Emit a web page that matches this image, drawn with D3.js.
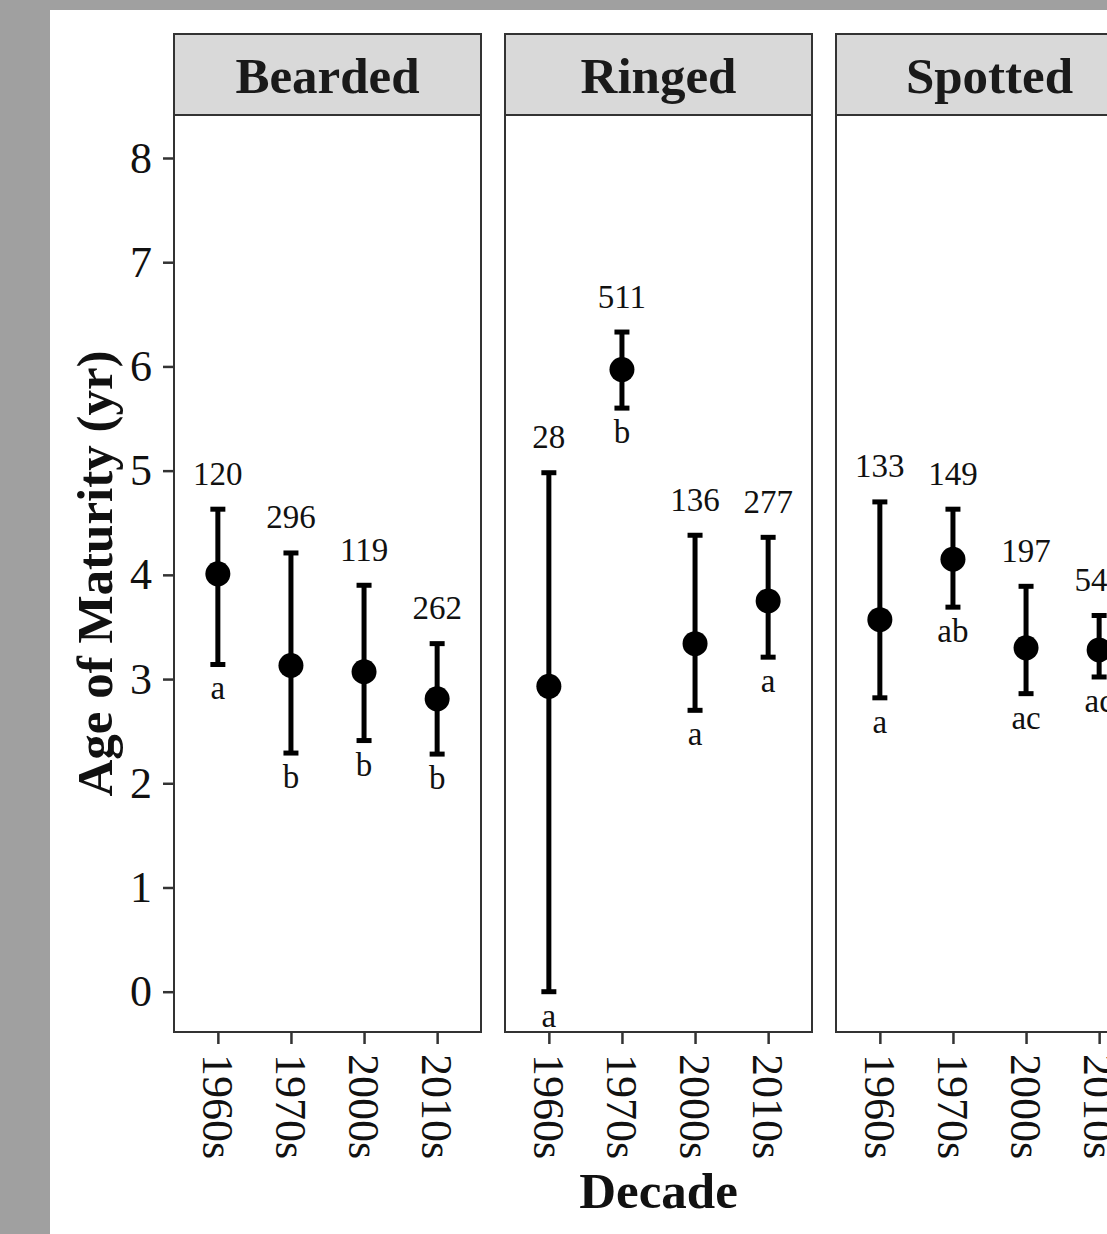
<!DOCTYPE html>
<html>
<head>
<meta charset="utf-8">
<script src="https://cdn.jsdelivr.net/npm/d3@7"></script>
<style>
  html, body { margin: 0; padding: 0; background: #a0a0a0; }
  svg { display: block; }
  text { font-family: "Liberation Serif", "Times New Roman", serif; }
</style>
</head>
<body>
<svg id="chart" width="1107" height="1234"></svg>
<script>
// ---- data ----
const species = ["Bearded", "Ringed", "Spotted"];
const decades = ["1960s", "1970s", "2000s", "2010s"];
const yTicks = [0, 1, 2, 3, 4, 5, 6, 7, 8];

const beardedMean = [4.01, 3.13, 3.07, 2.81];
const beardedLow  = [3.14, 2.29, 2.41, 2.28];
const beardedHigh = [4.63, 4.21, 3.90, 3.34];
const beardedN    = ["120", "296", "119", "262"];
const beardedSig  = ["a", "b", "b", "b"];

const ringedMean = [2.93, 5.97, 3.34, 3.75];
const ringedLow  = [0.00, 5.60, 2.70, 3.21];
const ringedHigh = [4.98, 6.33, 4.38, 4.36];
const ringedN    = ["28", "511", "136", "277"];
const ringedSig  = ["a", "b", "a", "a"];

const spottedMean = [3.57, 4.15, 3.30, 3.28];
const spottedLow  = [2.82, 3.69, 2.86, 3.02];
const spottedHigh = [4.70, 4.63, 3.89, 3.61];
const spottedN    = ["133", "149", "197", "542"];
const spottedSig  = ["a", "ab", "ac", "ac"];

const series = [
  {mean: beardedMean, low: beardedLow, high: beardedHigh, n: beardedN, sig: beardedSig},
  {mean: ringedMean,  low: ringedLow,  high: ringedHigh,  n: ringedN,  sig: ringedSig},
  {mean: spottedMean, low: spottedLow, high: spottedHigh, n: spottedN, sig: spottedSig}
];

// ---- layout ----
const svg = d3.select("#chart");
svg.append("rect").attr("x", 50).attr("y", 10).attr("width", 1107 - 50).attr("height", 1234 - 10).attr("fill", "#ffffff");

const panelW = 307, panelGap = 24, panel0 = 174;
const stripTop = 34, panelTop = 115, panelBottom = 1032;
const y = d3.scaleLinear().domain([0, 8]).range([991.7, 158]);
const axisColor = "#333333";

// y axis
const yAxis = svg.append("g").attr("transform", `translate(${panel0},0)`)
  .call(d3.axisLeft(y).tickValues(yTicks).tickSize(11).tickPadding(11).tickFormat(d3.format("d")));
yAxis.select(".domain").remove();
yAxis.selectAll(".tick line").attr("stroke", axisColor).attr("stroke-width", 2.5);
yAxis.selectAll(".tick text").attr("font-size", 44).attr("fill", "#111")
  .attr("font-family", "Liberation Serif, serif");

// y title
svg.append("text")
  .attr("transform", `translate(112,${(panelTop + panelBottom) / 2}) rotate(-90)`)
  .attr("text-anchor", "middle").attr("font-weight", "bold").attr("font-size", 51)
  .attr("fill", "#111").text("Age of Maturity (yr)");

species.forEach((sp, i) => {
  const left = panel0 + i * (panelW + panelGap);
  const g = svg.append("g").attr("transform", `translate(${left},0)`);
  const x = d3.scalePoint().domain(decades).range([0, panelW]).padding(0.6);
  const s = series[i];

  // strip
  g.append("rect").attr("x", 0).attr("y", stripTop).attr("width", panelW).attr("height", panelTop - stripTop)
    .attr("fill", "#d9d9d9").attr("stroke", axisColor).attr("stroke-width", 2);
  g.append("text").attr("x", panelW / 2).attr("y", panelTop - 22)
    .attr("text-anchor", "middle").attr("font-weight", "bold").attr("font-size", 51)
    .attr("fill", "#1a1a1a").text(sp);

  // panel
  g.append("rect").attr("x", 0).attr("y", panelTop).attr("width", panelW).attr("height", panelBottom - panelTop)
    .attr("fill", "#ffffff").attr("stroke", axisColor).attr("stroke-width", 2);

  // x axis
  const xAxis = g.append("g").attr("transform", `translate(0,${panelBottom})`)
    .call(d3.axisBottom(x).tickSize(12).tickPadding(10));
  xAxis.select(".domain").remove();
  xAxis.selectAll(".tick line").attr("stroke", axisColor).attr("stroke-width", 2.5);
  xAxis.selectAll(".tick text").attr("font-size", 44).attr("fill", "#111")
    .attr("font-family", "Liberation Serif, serif")
    .attr("transform", "rotate(90)").attr("y", 0).attr("x", 22).attr("dy", "0.35em")
    .attr("text-anchor", "start");

  const rows = decades.map((d, k) => ({d, mean: s.mean[k], low: s.low[k], high: s.high[k], n: s.n[k], sig: s.sig[k]}));
  const items = g.selectAll(".pt").data(rows).enter().append("g").attr("class", "pt");

  items.append("line").attr("x1", r => x(r.d)).attr("x2", r => x(r.d))
    .attr("y1", r => y(r.low)).attr("y2", r => y(r.high))
    .attr("stroke", "#000").attr("stroke-width", 5);
  items.append("line").attr("x1", r => x(r.d) - 7.5).attr("x2", r => x(r.d) + 7.5)
    .attr("y1", r => y(r.low)).attr("y2", r => y(r.low))
    .attr("stroke", "#000").attr("stroke-width", 5);
  items.append("line").attr("x1", r => x(r.d) - 7.5).attr("x2", r => x(r.d) + 7.5)
    .attr("y1", r => y(r.high)).attr("y2", r => y(r.high))
    .attr("stroke", "#000").attr("stroke-width", 5);
  items.append("circle").attr("cx", r => x(r.d)).attr("cy", r => y(r.mean)).attr("r", 12.5).attr("fill", "#000");

  items.append("text").attr("x", r => x(r.d)).attr("y", r => y(r.high) - 24.5)
    .attr("text-anchor", "middle").attr("font-size", 33).attr("fill", "#111").text(r => r.n);
  items.append("text").attr("x", r => x(r.d)).attr("y", r => y(r.low) + 35)
    .attr("text-anchor", "middle").attr("font-size", 33).attr("fill", "#111").text(r => r.sig);
});

// x title
svg.append("text")
  .attr("x", panel0 + (3 * panelW + 2 * panelGap) / 2).attr("y", 1208)
  .attr("text-anchor", "middle").attr("font-weight", "bold").attr("font-size", 51)
  .attr("fill", "#111").text("Decade");
</script>
</body>
</html>
